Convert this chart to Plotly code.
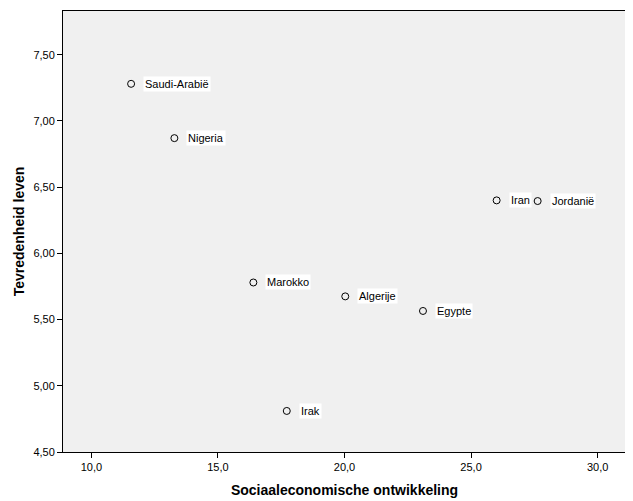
import plotly.graph_objects as go

countries = ["Saudi-Arabië", "Nigeria", "Iran", "Jordanië", "Marokko", "Algerije", "Egypte", "Irak"]
socio_econ = [11.57, 13.28, 26.01, 27.63, 16.40, 20.03, 23.10, 17.72]
satisfaction = [7.28, 6.87, 6.40, 6.395, 5.78, 5.675, 5.565, 4.81]

x_ticks = [10, 15, 20, 25, 30]
y_ticks = [4.5, 5.0, 5.5, 6.0, 6.5, 7.0, 7.5]

font_family = "Liberation Sans, Arial, sans-serif"

fig = go.Figure()
fig.add_trace(go.Scatter(
    x=socio_econ, y=satisfaction, mode="markers",
    marker=dict(size=7, color="rgba(0,0,0,0)", line=dict(color="black", width=1)),
    hoverinfo="skip", showlegend=False,
))

for c, xv, yv in zip(countries, socio_econ, satisfaction):
    fig.add_annotation(
        x=xv, y=yv, text=c, showarrow=False, xanchor="left", yanchor="middle",
        xshift=12, bgcolor="white", borderpad=1,
        font=dict(family=font_family, size=11, color="black"),
    )

# page body has an 8px default margin, so the figure is offset by 8px
fig.update_layout(
    width=625, height=493,
    margin=dict(l=55, r=7, t=3, b=49),
    paper_bgcolor="white", plot_bgcolor="#F0F0F0",
    separators=",.",
    font=dict(family=font_family, size=11, color="black"),
    showlegend=False,
)
fig.update_xaxes(
    range=[8.88, 31.12], tickvals=x_ticks, tickformat=".1f", automargin=False,
    showgrid=False, zeroline=False, showline=True, linecolor="black", linewidth=1, mirror=True,
    ticks="outside", ticklen=5, tickcolor="black",
    title=dict(text="<b>Sociaaleconomische ontwikkeling</b>", font=dict(size=14, family=font_family), standoff=12),
)
fig.update_yaxes(
    range=[4.5, 7.83], tickvals=y_ticks, tickformat=".2f", automargin=False,
    showgrid=False, zeroline=False, showline=True, linecolor="black", linewidth=1, mirror=True,
    ticks="outside", ticklen=5, tickcolor="black",
    title=dict(text="<b>Tevredenheid leven</b>", font=dict(size=14, family=font_family), standoff=5),
)

fig.write_html("out.html")
